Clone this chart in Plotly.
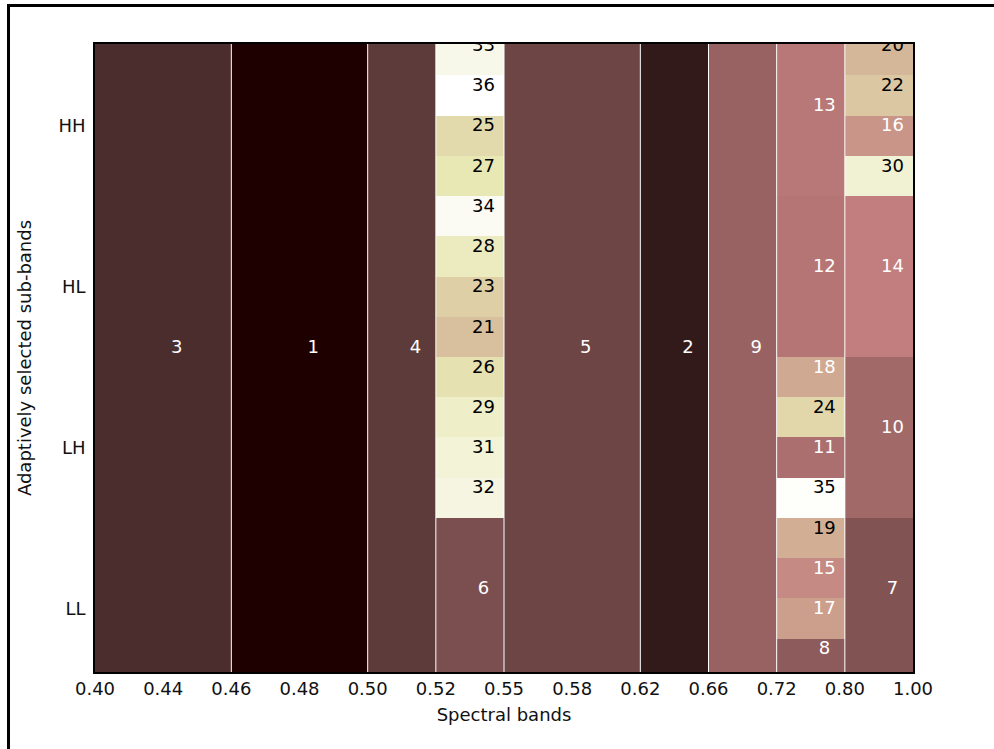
import numpy as np
import plotly.graph_objects as go

# ---------------- data ----------------
band_labels = ["0.40", "0.44", "0.46", "0.48", "0.50", "0.52", "0.55",
               "0.58", "0.62", "0.66", "0.72", "0.80", "1.00"]
subband_labels = ["LL", "LH", "HL", "HH"]

# columns given as index range on the spectral-band tick scale
col_start = [0, 2, 4, 5, 6, 8, 9, 10, 11]
col_end = [2, 4, 5, 6, 8, 9, 10, 11, 12]

# ranks in each column, listed from top to bottom
col_ranks = [
    [3],
    [1],
    [4],
    [33, 36, 25, 27, 34, 28, 23, 21, 26, 29, 31, 32, 6],
    [5],
    [2],
    [9],
    [13, 12, 18, 24, 11, 35, 19, 15, 17, 8],
    [20, 22, 16, 30, 14, 10, 7],
]
# number of sub-levels (out of 16) spanned by each cell, top to bottom
col_spans = [
    [16],
    [16],
    [16],
    [1] * 12 + [4],
    [16],
    [16],
    [16],
    [4, 4, 1, 1, 1, 1, 1, 1, 1, 1],
    [1, 1, 1, 1, 4, 4, 4],
]
N_LEVELS = 16

# ------------- MATLAB "pink" colormap -------------
def pink_colormap(m=64):
    n = int(3 / 8 * m)
    i = np.arange(m)
    gray = i / (m - 1)
    r = np.where(i < n, (i + 1) / n, 1.0)
    g = np.where(i < n, 0.0, np.where(i < 2 * n, (i + 1 - n) / n, 1.0))
    b = np.where(i < 2 * n, 0.0, (i + 1 - 2 * n) / (m - 2 * n))
    hot = np.stack([r, g, b], axis=1)
    return np.sqrt((2 * gray[:, None] + hot) / 3)

cmap = pink_colormap(64)
m = len(cmap)
colorscale = []
for k, c in enumerate(cmap):
    col = "rgb(%d,%d,%d)" % tuple(np.round(c * 255).astype(int))
    colorscale.append([k / m, col])
    colorscale.append([(k + 1) / m if k < m - 1 else 1.0, col])

# ------------- build cells -------------
xc, wd, base, hgt, val = [], [], [], [], []
for x0, x1, ranks, spans in zip(col_start, col_end, col_ranks, col_spans):
    top = N_LEVELS
    for rk, sp in zip(ranks, spans):
        xc.append((x0 + x1) / 2)
        wd.append(x1 - x0)
        base.append(top - sp)
        hgt.append(sp)
        val.append(rk)
        top -= sp

xc = np.array(xc, float)
base = np.array(base, float)
hgt = np.array(hgt, float)

fig = go.Figure()
fig.add_trace(go.Bar(
    x=xc, y=hgt, base=base, width=wd,
    marker=dict(color=val, colorscale=colorscale, cmin=1, cmax=36,
                showscale=False, line=dict(width=0)),
    hoverinfo="skip", showlegend=False,
))

# white separators between columns
lx, ly = [], []
for e in col_end[:-1]:
    lx += [e, e, None]
    ly += [0, N_LEVELS, None]
fig.add_trace(go.Scatter(x=lx, y=ly, mode="lines",
                         line=dict(color="white", width=1),
                         hoverinfo="skip", showlegend=False))

# labels in cells
txt_col = ["black" if v >= 19 else "white" for v in val]
fig.add_trace(go.Scatter(
    x=xc + 0.2, y=base + hgt / 2 + 0.22, mode="text",
    text=[str(v) for v in val],
    textfont=dict(family="DejaVu Sans", size=18, color=txt_col),
    textposition="middle center",
    hoverinfo="skip", showlegend=False,
))

W, H = 994, 749
L, R, T, B = 95, 81, 44, 77
fig.update_layout(
    width=W, height=H,
    margin=dict(l=L, r=R, t=T, b=B),
    paper_bgcolor="white", plot_bgcolor="white",
    barmode="overlay", bargap=0,
    font=dict(family="DejaVu Sans", size=18, color="#111"),
    xaxis=dict(range=[0, 12], tickvals=list(range(len(band_labels))),
               ticktext=band_labels, ticks="", showgrid=False, zeroline=False,
               showline=True, mirror=True, linecolor="black", linewidth=1.5,
               tickfont=dict(size=18),
               title=dict(text="Spectral bands", standoff=10,
                          font=dict(size=18))),
    yaxis=dict(range=[0.17, 15.78],
               tickvals=[1.75 + 4 * i for i in range(len(subband_labels))],
               ticktext=subband_labels, ticks="", showgrid=False,
               zeroline=False, showline=True, mirror=True,
               linecolor="black", linewidth=1.5, ticklabelstandoff=4,
               tickfont=dict(size=18),
               title=dict(text="Adaptively selected sub-bands", standoff=22,
                          font=dict(size=18))),
)

# outer frame (screenshot border)
pw, ph = W - L - R, H - T - B
fig.add_shape(type="rect", xref="paper", yref="paper",
              x0=(8.5 - L) / pw, x1=(1010 - L) / pw,
              y0=(H - B - 770) / ph, y1=(H - B - 5.5) / ph,
              line=dict(color="black", width=3), fillcolor="rgba(0,0,0,0)",
              layer="above")

fig.write_html("out.html",
               config={"displayModeBar": False},
               post_script="document.body.style.margin='0';"
                           "document.body.style.overflow='hidden';")
